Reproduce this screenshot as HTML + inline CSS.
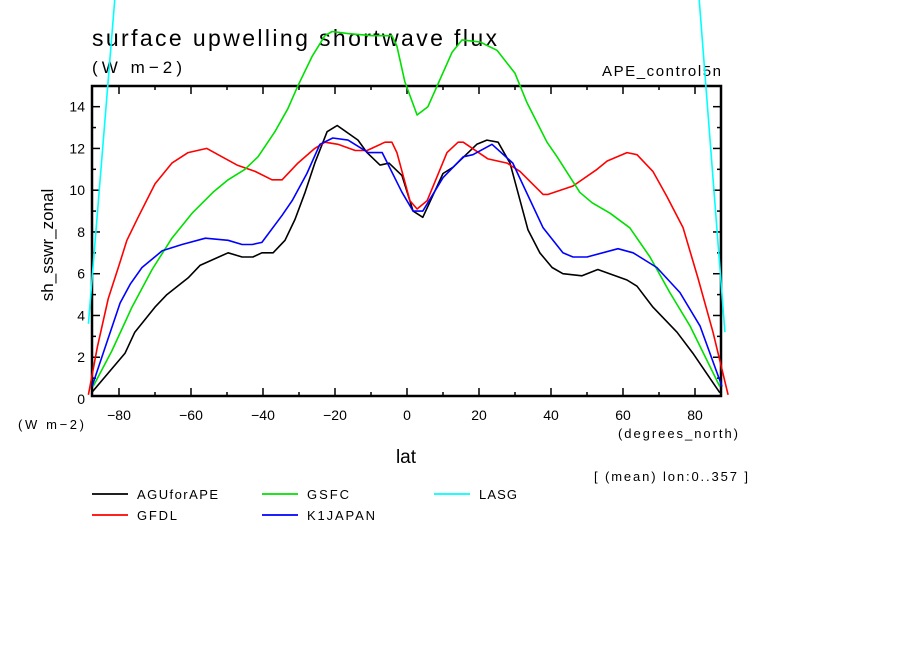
<!DOCTYPE html>
<html><head><meta charset="utf-8"><style>
body{margin:0;background:#fff;}
svg text{font-family:"Liberation Sans","DejaVu Sans",sans-serif;fill:#000;}
</style></head><body>
<svg id="chart" width="904" height="654" viewBox="0 0 904 654" xmlns="http://www.w3.org/2000/svg">
<rect width="904" height="654" fill="#fff"/>
<text x="92" y="46" font-size="23" textLength="405" lengthAdjust="spacing">surface upwelling shortwave flux</text>
<text x="92" y="73" font-size="17" textLength="90" lengthAdjust="spacing">(W m−2)</text>
<text x="602" y="76" font-size="15" textLength="119" lengthAdjust="spacing">APE_control5n</text>
<text transform="translate(53,245) rotate(-90)" font-size="17" text-anchor="middle">sh_sswr_zonal</text>
<text x="18" y="429" font-size="13" textLength="66" lengthAdjust="spacing">(W m−2)</text>
<text x="618" y="438" font-size="13" textLength="120" lengthAdjust="spacing">(degrees_north)</text>
<text x="406" y="463" font-size="19" text-anchor="middle">lat</text>
<text x="594" y="481" font-size="13" textLength="154" lengthAdjust="spacing">[ (mean) lon:0..357 ]</text>
<g id="axes"></g>
<g id="series"></g>
<g id="legend"></g>
</svg>
<script>
const xTicks=[-80,-60,-40,-20,0,20,40,60,80];
const yTicks=[0,2,4,6,8,10,12,14];
const seriesNames=["AGUforAPE","GFDL","GSFC","K1JAPAN","LASG"];
const seriesColors=["#000000","#ff0000","#00e000","#0000ff","#00ffff"];
const aguLat=[-87.6,-78.3,-75.6,-70,-66.7,-60.8,-57.5,-49.7,-45.8,-42.8,-40.3,-37.2,-33.9,-31.1,-28.3,-25.6,-22.2,-19.4,-13.6,-11.1,-7.5,-5,-1.4,1.7,4.4,10,12.8,19.4,22.2,25.3,28.6,33.6,36.9,40.3,43.3,48.6,53,61.1,63.9,68.3,75,79.4,86.9];
const aguVal=[0.3,2.2,3.2,4.4,5.0,5.8,6.4,7.0,6.8,6.8,7.0,7.0,7.6,8.6,9.9,11.3,12.8,13.1,12.4,11.8,11.2,11.3,10.7,9.0,8.7,10.8,11.1,12.2,12.4,12.3,11.3,8.1,7.0,6.3,6.0,5.9,6.2,5.7,5.4,4.4,3.2,2.2,0.3];
const gfdlLat=[-88.5,-86,-83,-80,-77.8,-74.7,-70,-65.3,-60.8,-55.6,-51.4,-47.2,-42.2,-37.5,-34.7,-30.3,-25.6,-22.8,-19.2,-14.4,-11.1,-6.1,-4.2,-2.8,0.8,2.8,5.6,11.1,14.2,15.6,22.5,27.8,31.4,37.8,39.2,46.1,52.8,55.6,61.1,63.9,68.3,72.2,76.7,80.8,85,89.2];
const gfdlVal=[0.2,2.5,4.8,6.4,7.6,8.7,10.3,11.3,11.8,12.0,11.6,11.2,10.9,10.5,10.5,11.3,12.0,12.3,12.2,11.9,11.9,12.3,12.3,11.8,9.5,9.1,9.5,11.8,12.3,12.3,11.5,11.3,10.9,9.8,9.8,10.2,11.0,11.4,11.8,11.7,10.9,9.7,8.2,5.8,3.2,0.2];
const gsfcLat=[-87.2,-82,-76.4,-70.8,-65.3,-59.7,-53.9,-49.7,-45,-41.4,-36.7,-33.1,-30.3,-26.4,-22.8,-20.8,-16.4,-9.7,-4.2,-2.8,-0.6,2.8,5.8,12.5,15.3,20.3,25,30,33.3,38.9,41.7,48,51.4,56.4,61.9,67.5,73,78.6,86.9];
const gsfcVal=[0.6,2.3,4.4,6.2,7.7,8.9,9.9,10.5,11.0,11.6,12.8,13.9,15.0,16.4,17.4,17.6,17.5,17.4,17.4,16.9,15.2,13.6,14.0,16.6,17.2,17.1,16.7,15.6,14.2,12.3,11.6,9.9,9.4,8.9,8.2,6.8,5.1,3.5,0.6];
const k1Lat=[-87.5,-84.4,-79.7,-76.9,-73.6,-68,-62.5,-56,-49.7,-45.8,-43,-40.3,-34.7,-31.9,-27.8,-24.2,-20.6,-16.4,-10.8,-6.9,-1.4,1.7,4.4,10,15.6,18.3,23.6,29.4,37.8,43.3,46.1,50,58.6,62.8,69.4,75.8,81.4,87.5];
const k1Val=[0.6,2.2,4.6,5.5,6.3,7.1,7.4,7.7,7.6,7.4,7.4,7.5,8.8,9.5,10.8,12.2,12.5,12.4,11.8,11.8,9.9,9.0,9.0,10.6,11.6,11.7,12.2,11.3,8.2,7.0,6.8,6.8,7.2,7.0,6.3,5.1,3.5,0.6];
const lasgLat=[-88.5,-81,81,88.3];
const lasgVal=[3.6,19.5,19.5,3.2];
const allLat=[aguLat,gfdlLat,gsfcLat,k1Lat,lasgLat];
const allVal=[aguVal,gfdlVal,gsfcVal,k1Val,lasgVal];

const NS="http://www.w3.org/2000/svg";
const L=92,R=721,T=86,B=396;
function xs(lat){return 407+lat*3.6;}
function ys(v){return 399-v*20.88;}
function mk(tag,attrs,parent){const e=document.createElementNS(NS,tag);for(const k in attrs)e.setAttribute(k,attrs[k]);parent.appendChild(e);return e;}
const axes=document.getElementById('axes');
for(let lat=-80;lat<=80;lat+=10){
  const x=xs(lat),len=(lat%20===0)?8:4;
  const t1=mk('line',{x1:x,x2:x,y1:T,y2:T+len,stroke:'#000','stroke-width':1.5},axes);
  
  
  const t2=mk('line',{x1:x,x2:x,y1:B,y2:B-len,stroke:'#000','stroke-width':1.5},axes);
  
  
}
xTicks.forEach(v=>{
  const t=mk('text',{x:xs(v),y:420,'font-size':14,'text-anchor':'middle'},axes);
  t.textContent=String(v).replace('-','−');
  
  
});
for(let v=1;v<=14;v++){
  const y=ys(v),len=(v%2===0)?8:4;
  const a=mk('line',{x1:L,x2:L+len,y1:y,y2:y,stroke:'#000','stroke-width':1.5},axes);
  
  
  const b=mk('line',{x1:R,x2:R-len,y1:y,y2:y,stroke:'#000','stroke-width':1.5},axes);
  
  
}
yTicks.forEach(v=>{
  const t=mk('text',{x:85,y:ys(v)+5,'font-size':14,'text-anchor':'end'},axes);
  t.textContent=v;
  
  
});
const frame=mk('rect',{x:L,y:T,width:R-L,height:B-T,fill:'none',stroke:'#000','stroke-width':2.5},axes);



const sg=document.getElementById('series');
allLat.forEach((lats,i)=>{
  const pts=lats.map((la,j)=>xs(la).toFixed(1)+','+ys(allVal[i][j]).toFixed(1)).join(' ');
  const p=mk('polyline',{points:pts,fill:'none',stroke:seriesColors[i],'stroke-width':1.6,'stroke-linejoin':'round'},sg);
  
  
});

const lg=document.getElementById('legend');
const legPos=[[92,494],[92,515],[262,494],[262,515],[434,494]];
const legW=[81,40,42,68,38];
seriesNames.forEach((n,i)=>{
  const [x,y]=legPos[i];
  const g=mk('g',{},lg);
  
  
  mk('line',{x1:x,x2:x+36,y1:y,y2:y,stroke:seriesColors[i],'stroke-width':1.8},g);
  const t=mk('text',{x:x+45,y:y+5,'font-size':13,textLength:legW[i],lengthAdjust:'spacing'},g);
  t.textContent=n;
});
</script>
</body></html>
